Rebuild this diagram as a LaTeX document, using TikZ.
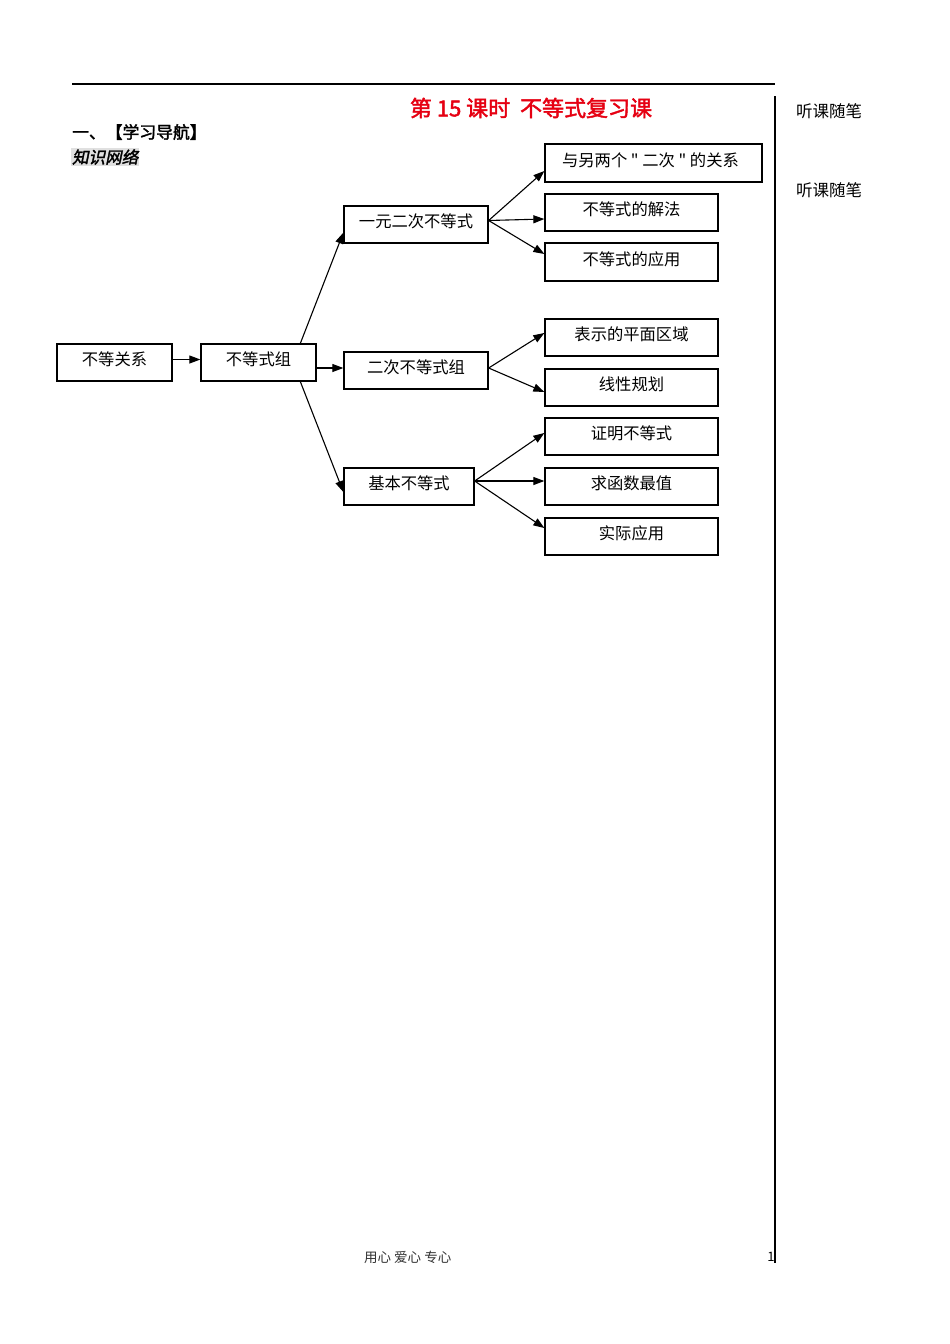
\documentclass[tikz,border=0pt]{standalone}
\usepackage{fontspec}
\setmainfont{Noto Sans CJK SC}
\newfontfamily\cjkbold[FakeBold=2]{Noto Sans CJK SC}
\newfontfamily\cjkboldit[FakeBold=2,FakeSlant=0.2]{Noto Sans CJK SC}
\newfontfamily\qfont[Ligatures=TeXOff]{Noto Sans CJK SC}
\usetikzlibrary{arrows.meta,calc}
\definecolor{titlered}{RGB}{230,0,18}
\begin{document}
\begin{tikzpicture}[x=1pt,y=-1pt,
  box/.style={draw=black,line width=1.3pt,rectangle,inner sep=0pt,
    minimum height=37pt,font=\fontsize{16.3}{16.3}\selectfont,
    text height=12.5pt,text depth=6.5pt},
  arr/.style={line width=1.1pt,-{Triangle[length=11pt,width=8pt]}},
  plain/.style={inner sep=0pt,anchor=west}]
\useasboundingbox (0,0) rectangle (950,1344);
\fill[white] (0,0) rectangle (950,1344);
% page rules
\coordinate (tl) at (72,84);
\coordinate (tr) at (775,84);
\coordinate (vt) at (775,96);
\coordinate (vb) at (775,1263);
\draw[line width=1.3pt] (tl) -- (tr);
\draw[line width=1.6pt] (vt) -- (vb);
% headings
\node[inner sep=0pt,text=titlered,font=\cjkbold\fontsize{22}{22}\selectfont] (title) at (531,108) {第 15 课时\ \ 不等式复习课};
\node[plain,font=\cjkbold\fontsize{16.8}{16.8}\selectfont] (sec) at (72,132) {一、【学习导航】};
\node[plain,fill=black!12,inner sep=1pt,font=\cjkboldit\fontsize{16.5}{16.5}\selectfont] (net) at (71,157) {知识网络};
\node[plain,font=\fontsize{16.5}{16.5}\selectfont] (n1) at (796,111) {听课随笔};
\node[plain,font=\fontsize{16.5}{16.5}\selectfont] (n2) at (796,190) {听课随笔};
\node[plain,text=black!80,font=\fontsize{13.5}{13.5}\selectfont] (foot) at (364,1257) {用心 爱心 专心};
\node[inner sep=0pt,font=\fontsize{13}{13}\selectfont] (pg) at (771,1257) {1};
% boxes
\node[box,minimum width=115pt] (A) at (114.5,362.5) {不等关系};
\node[box,minimum width=115pt] (B) at (258.5,362.5) {不等式组};
\node[box,minimum width=144pt] (C) at (416,224.5) {一元二次不等式};
\node[box,minimum width=144pt] (D) at (416,370.5) {二次不等式组};
\node[box,minimum width=130pt] (E) at (409,486.5) {基本不等式};
\node[box,minimum width=217pt,minimum height=38pt,xshift=-3pt] (F) at (656.5,163) {与另两个{\qfont\ "\ }二次{\qfont\ "\ }的关系\hspace*{6pt}};
\node[box,minimum width=173pt] (G) at (631.5,212.5) {不等式的解法};
\node[box,minimum width=173pt,minimum height=38pt] (H) at (631.5,262) {不等式的应用};
\node[box,minimum width=173pt] (I) at (631.5,337.5) {表示的平面区域};
\node[box,minimum width=173pt] (J) at (631.5,387.5) {线性规划};
\node[box,minimum width=173pt] (K) at (631.5,436.5) {证明不等式};
\node[box,minimum width=173pt] (L) at (631.5,486.5) {求函数最值};
\node[box,minimum width=173pt] (M) at (631.5,536.5) {实际应用};
% connectors
\draw[arr] ($(A.east)+(0,-3)$) -- ($(B.west)+(0,-3)$);
\draw[arr] ($(B.north west)+(100,0)$) -- ($(C.south west)+(0,-11)$);
\draw[arr] ($(B.east)+(0,5.5)$) -- ($(D.west)+(0,-2.5)$);
\draw[arr] ($(B.south west)+(100,0)$) -- ($(E.west)+(0,5.5)$);
\draw[arr] ($(C.east)+(0,-4)$) -- ($(F.west)+(0,8)$);
\draw[arr] ($(C.east)+(0,-4)$) -- ($(G.west)+(0,6.5)$);
\draw[arr] ($(C.east)+(0,-4)$) -- ($(H.west)+(0,-8)$);
\draw[arr] ($(D.east)+(0,-2.5)$) -- ($(I.west)+(0,-4.5)$);
\draw[arr] ($(D.east)+(0,-2.5)$) -- ($(J.west)+(0,4.5)$);
\draw[arr] ($(E.east)+(0,-5.5)$) -- ($(K.west)+(0,-3.5)$);
\draw[arr] ($(E.east)+(0,-5.5)$) -- ($(L.west)+(0,-5.5)$);
\draw[arr] ($(E.east)+(0,-5.5)$) -- ($(M.west)+(0,-8.5)$);
\end{tikzpicture}
\end{document}
